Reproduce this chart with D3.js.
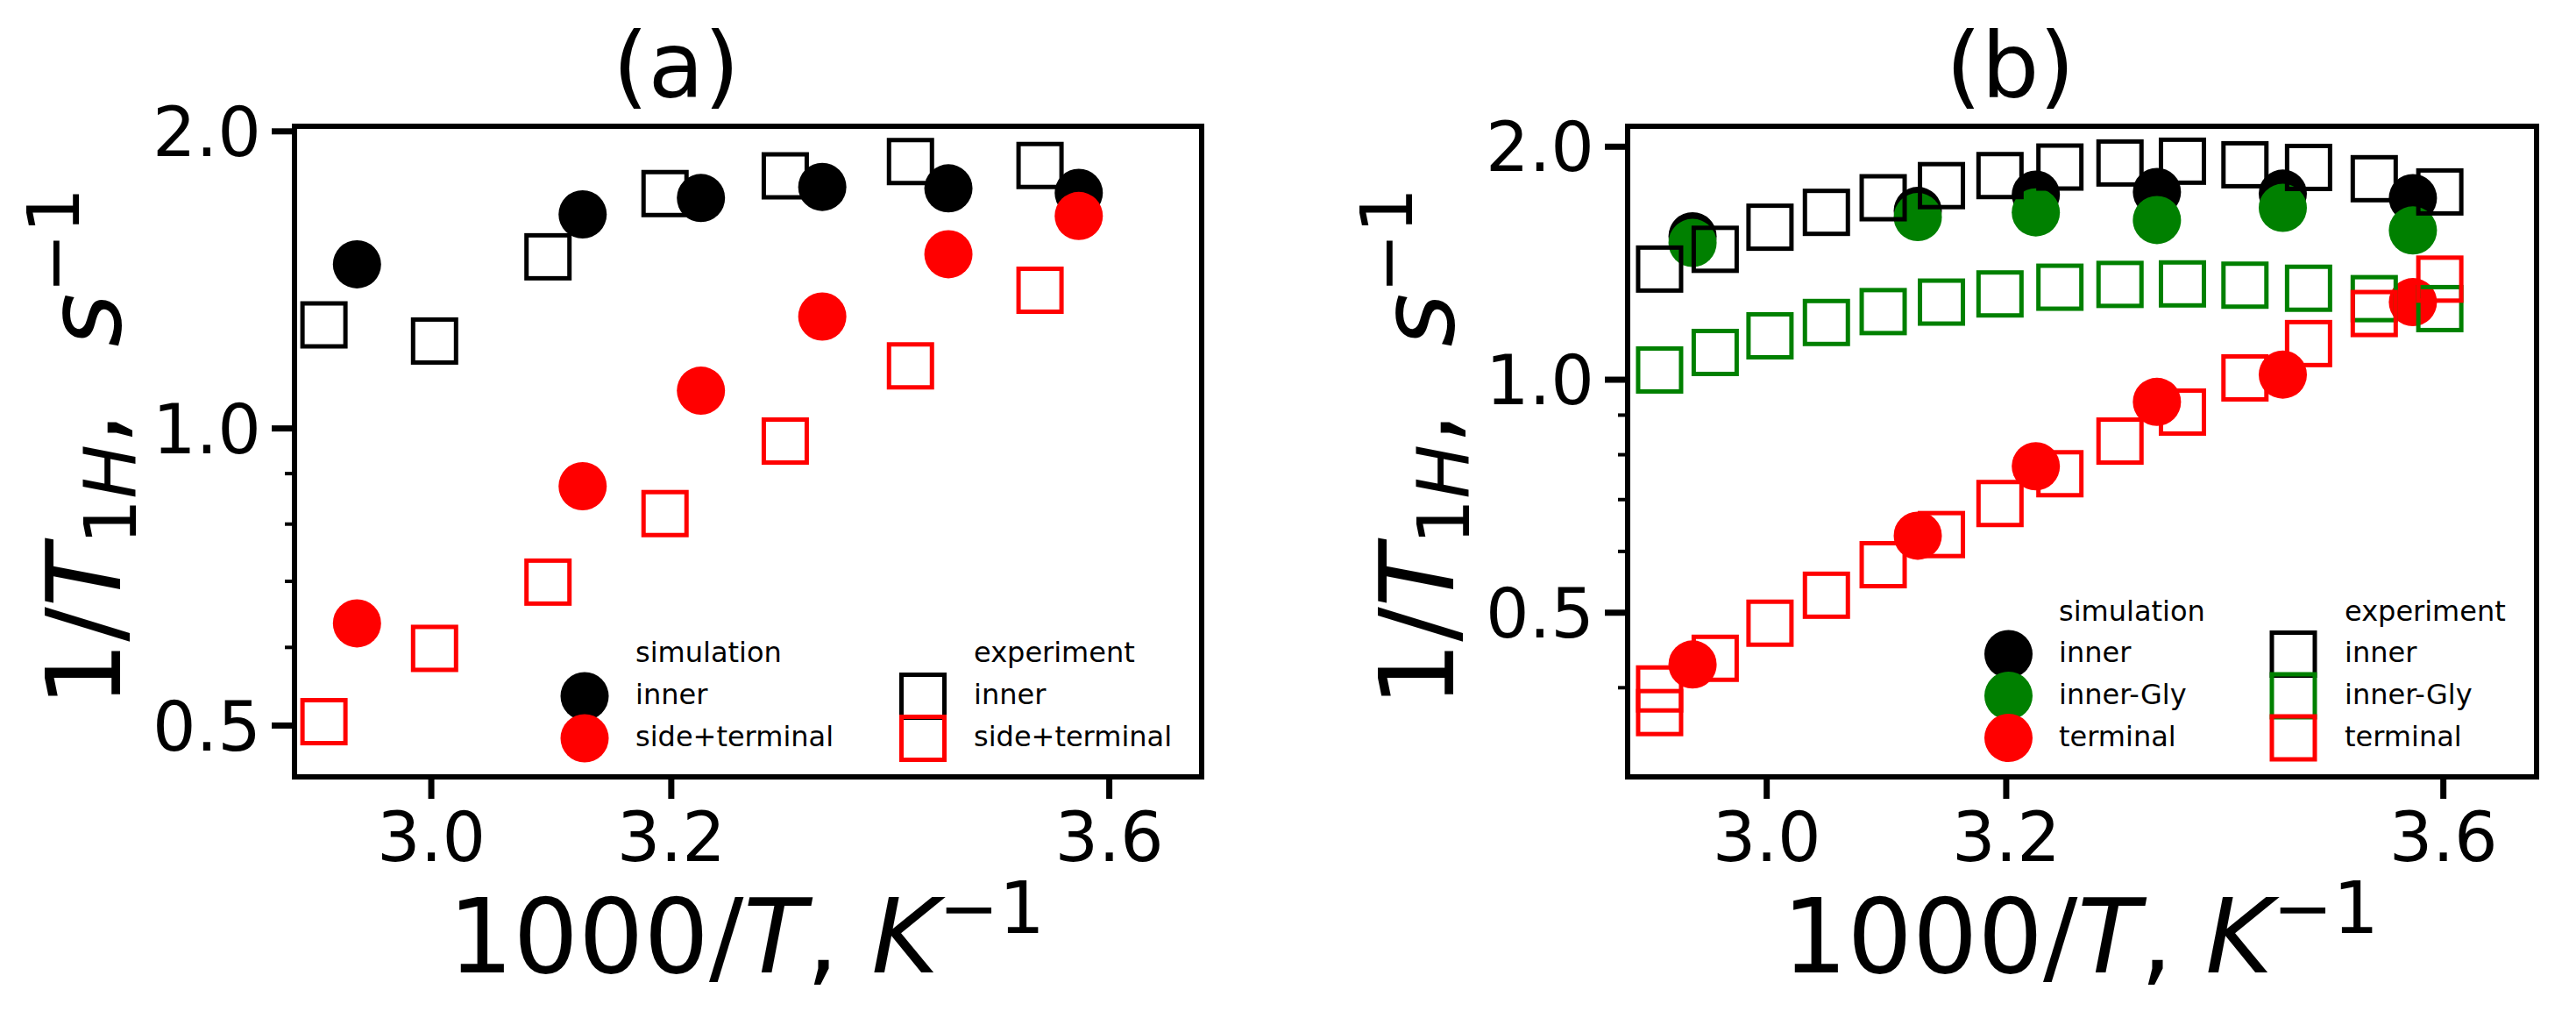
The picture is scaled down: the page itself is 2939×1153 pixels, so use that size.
<!DOCTYPE html>
<html><head><meta charset="utf-8">
<script src="https://cdn.jsdelivr.net/npm/d3@7"></script>
<style>
html,body{margin:0;padding:0;background:#fff;}
svg{display:block;}
text{font-family:"DejaVu Sans", sans-serif;}
</style></head><body>
<svg id="chart" width="2939" height="1153"></svg>
<script>
// ---------------- data ----------------
const xTickValues = [3.0, 3.2, 3.6];
const yTickValues = [0.5, 1.0, 2.0];
const yMinorTickValues = [0.3, 0.4, 0.6, 0.7, 0.8, 0.9];

// simulation temperatures 340,320,310,300,290,280 K -> 1000/T
const simX = [2.941, 3.125, 3.226, 3.333, 3.448, 3.571];

// panel (a)
const simInnerA = [1.465, 1.646, 1.710, 1.755, 1.749, 1.731];
const simSideTermA = [0.634, 0.873, 1.091, 1.297, 1.500, 1.640];
const expXA = [2.915, 3.003, 3.096, 3.195, 3.300, 3.413, 3.534];
const expInnerA = [1.272, 1.225, 1.491, 1.728, 1.801, 1.862, 1.845];
const expSideTermA = [0.504, 0.598, 0.698, 0.819, 0.970, 1.156, 1.379];

// panel (b)
const simInnerB = [1.530, 1.650, 1.732, 1.746, 1.737, 1.714];
const simGlyB = [1.500, 1.620, 1.643, 1.606, 1.665, 1.557];
const simTermB = [0.428, 0.628, 0.772, 0.935, 1.014, 1.258];
const expXB = [2.915, 2.959, 3.003, 3.049, 3.096, 3.145, 3.195, 3.247, 3.300, 3.356, 3.413, 3.472, 3.534, 3.597];
const expInnerB = [1.388, 1.472, 1.572, 1.643, 1.716, 1.779, 1.833, 1.880, 1.903, 1.913, 1.893, 1.878, 1.816, 1.746];
const expGlyB = [1.028, 1.083, 1.138, 1.184, 1.223, 1.258, 1.289, 1.315, 1.326, 1.328, 1.323, 1.311, 1.271, 1.234];
const expTermXB = [2.915, 2.915, 2.959, 3.003, 3.049, 3.096, 3.145, 3.195, 3.247, 3.300, 3.356, 3.413, 3.472, 3.534, 3.597];
const expTermB = [0.398, 0.371, 0.436, 0.484, 0.526, 0.576, 0.630, 0.691, 0.755, 0.832, 0.907, 1.004, 1.112, 1.216, 1.347];

// ---------------- layout ----------------
const FONT = '"DejaVu Sans", sans-serif';
const svg = d3.select('#chart');
const BLACK = '#000000', RED = '#ff0000', GREEN = '#008000';

const panels = [
  {
    title: '(a)', left: 336, right: 1371, top: 144, bottom: 886,
    xDomain: [2.892, 3.691], yDomain: [0.4431, 2.0218],
    circles: [[simX, simInnerA, BLACK], [simX, simSideTermA, RED]],
    squares: [[expXA, expInnerA, BLACK], [expXA, expSideTermA, RED]],
    legend: {
      simX: 667, simTextX: 725, expX: 1053, expTextX: 1111,
      headBase: 755,
      rows: [{y: 794, label: 'inner', c: BLACK}, {y: 842, label: 'side+terminal', c: RED}]
    }
  },
  {
    title: '(b)', left: 1857, right: 2894, top: 144, bottom: 886,
    xDomain: [2.890, 3.692], yDomain: [0.3064, 2.1226],
    circles: [[simX, simInnerB, BLACK], [simX, simGlyB, GREEN], [simX, simTermB, RED]],
    squares: [[expXB, expInnerB, BLACK], [expXB, expGlyB, GREEN], [expTermXB, expTermB, RED]],
    legend: {
      simX: 2291.5, simTextX: 2349, expX: 2616.5, expTextX: 2675,
      headBase: 708,
      rows: [{y: 746, label: 'inner', c: BLACK}, {y: 793.5, label: 'inner-Gly', c: GREEN}, {y: 841.5, label: 'terminal', c: RED}]
    }
  }
];

const R = 27.5, SQ = 49, SQW = 5;

panels.forEach(p => {
  const x = d3.scaleLog().domain(p.xDomain).range([p.left, p.right]);
  const y = d3.scaleLog().domain(p.yDomain).range([p.bottom, p.top]);
  const g = svg.append('g');

  // data markers: circles (simulation) then squares (experiment)
  p.circles.forEach(([xs, ys, c]) => {
    g.append('g').selectAll('circle').data(d3.zip(xs, ys)).join('circle')
      .attr('cx', d => x(d[0])).attr('cy', d => y(d[1])).attr('r', R)
      .attr('fill', c);
  });
  p.squares.forEach(([xs, ys, c]) => {
    g.append('g').selectAll('rect').data(d3.zip(xs, ys)).join('rect')
      .attr('x', d => x(d[0]) - SQ / 2).attr('y', d => y(d[1]) - SQ / 2)
      .attr('width', SQ).attr('height', SQ)
      .attr('fill', 'none').attr('stroke', c).attr('stroke-width', SQW);
  });

  // frame
  g.append('rect').attr('x', p.left).attr('y', p.top)
    .attr('width', p.right - p.left).attr('height', p.bottom - p.top)
    .attr('fill', 'none').attr('stroke', '#000').attr('stroke-width', 6);

  // y axis major
  const yAx = g.append('g').attr('transform', `translate(${p.left},0)`)
    .call(d3.axisLeft(y).tickValues(yTickValues).tickFormat(d3.format('.1f')).tickSize(26).tickPadding(12));
  yAx.select('.domain').remove();
  yAx.selectAll('.tick line').attr('stroke', '#000').attr('stroke-width', 7);
  yAx.selectAll('.tick text').attr('font-family', FONT).attr('font-size', 78).attr('fill', '#000').attr('dy', '0.36em');
  // y axis minor
  const yMin = g.append('g').attr('transform', `translate(${p.left},0)`)
    .call(d3.axisLeft(y).tickValues(yMinorTickValues.filter(v => v > p.yDomain[0] && v < p.yDomain[1])).tickFormat('').tickSize(11));
  yMin.select('.domain').remove();
  yMin.selectAll('.tick line').attr('stroke', '#000').attr('stroke-width', 4);

  // x axis
  const xAx = g.append('g').attr('transform', `translate(0,${p.bottom})`)
    .call(d3.axisBottom(x).tickValues(xTickValues).tickFormat(d3.format('.1f')).tickSize(25).tickPadding(16));
  xAx.select('.domain').remove();
  xAx.selectAll('.tick line').attr('stroke', '#000').attr('stroke-width', 7);
  xAx.selectAll('.tick text').attr('font-family', FONT).attr('font-size', 78).attr('fill', '#000');

  const cx = (p.left + p.right) / 2;

  // title
  g.append('text').attr('x', cx - 82).attr('y', 110.5).attr('text-anchor', 'middle')
    .attr('font-family', FONT).attr('font-size', 104).text(p.title);

  // x label: 1000/T, K^-1
  const xl = g.append('text').attr('x', cx - 2).attr('y', 1109).attr('text-anchor', 'middle')
    .attr('font-family', FONT).attr('font-size', 117).style('white-space', 'pre');
  xl.append('tspan').text('1000/');
  xl.append('tspan').attr('font-style', 'italic').text('T');
  xl.append('tspan').text(', ');
  xl.append('tspan').attr('font-style', 'italic').text('K');
  xl.append('tspan').attr('font-size', 82).attr('dy', -45).text('\u22121');

  // y label: 1/T_{1H},  s^-1
  const yl = g.append('text').attr('transform', `translate(${p.left - 199.5},510) rotate(-90)`)
    .attr('text-anchor', 'middle').attr('font-family', FONT).attr('font-size', 117)
    .style('white-space', 'pre');
  yl.append('tspan').text('1/');
  yl.append('tspan').attr('font-style', 'italic').text('T');
  yl.append('tspan').attr('font-size', 82).attr('dy', 18).text('1');
  yl.append('tspan').attr('font-size', 82).attr('font-style', 'italic').text('H');
  yl.append('tspan').attr('dy', -18).text(',  ');
  yl.append('tspan').attr('font-style', 'italic').text('s');
  yl.append('tspan').attr('font-size', 82).attr('dy', -47).text('\u22121');

  // legend
  const L = p.legend;
  const lg = g.append('g').attr('font-family', FONT).attr('font-size', 32).attr('fill', '#000');
  lg.append('text').attr('x', L.simTextX).attr('y', L.headBase).text('simulation');
  lg.append('text').attr('x', L.expTextX).attr('y', L.headBase).text('experiment');
  L.rows.forEach(r => {
    lg.append('circle').attr('cx', L.simX).attr('cy', r.y).attr('r', R).attr('fill', r.c);
    lg.append('text').attr('x', L.simTextX).attr('y', r.y + 9).text(r.label);
  });
  L.rows.forEach(r => {
    lg.append('rect').attr('x', L.expX - SQ / 2).attr('y', r.y - SQ / 2).attr('width', SQ).attr('height', SQ)
      .attr('fill', 'none').attr('stroke', r.c).attr('stroke-width', SQW);
    lg.append('text').attr('x', L.expTextX).attr('y', r.y + 9).text(r.label);
  });
});
</script>
</body></html>
